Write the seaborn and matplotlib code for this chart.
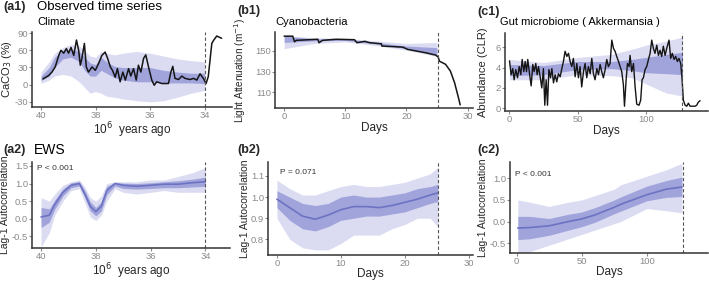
import numpy as np
import pandas as pd
import matplotlib
matplotlib.use("Agg")
import matplotlib.pyplot as plt
import seaborn as sns

# ---- (a1) climate: CaCO3 record (10^6 years ago, %)
a1_age = [39.93, 39.72, 39.6, 39.48, 39.35, 39.27, 39.17, 39.07, 38.99, 38.9, 38.8, 38.7,
          38.62, 38.56, 38.5, 38.41, 38.34, 38.26, 38.13, 38.01, 37.89, 37.77, 37.65, 37.56,
          37.46, 37.38, 37.28, 37.2, 37.1, 37.0, 36.91, 36.79, 36.71, 36.61, 36.51, 36.43,
          36.34, 36.24, 36.16, 36.06, 35.94, 35.85, 35.76, 35.57, 35.33, 35.24, 35.17, 35.09,
          34.96, 34.84, 34.72, 34.54, 34.41, 34.29, 34.17, 34.05, 33.95, 33.87, 33.74, 33.68,
          33.56, 33.38]
a1_caco3 = [10, 16, 22, 31, 51, 60, 55, 63, 55, 65, 51, 78,
            60, 34, 46, 72, 31, 22, 31, 25, 37, 51, 57, 46,
            31, 25, 13, 28, 5, 22, 8, 28, 15, 28, 8, 34,
            22, 46, 52, 31, 8, -1, 5, 2, 2, 22, 32, 11,
            9, 15, 11, 9, 11, 8, 19, 11, 2, 14, 72, 77,
            85, 81]
a1_band_age = [40.0, 39.7, 39.5, 39.2, 38.9, 38.6, 38.4, 38.2, 38.0, 37.8, 37.6, 37.3,
               37.0, 36.5, 36.0, 35.5, 35.0, 34.5, 34.0]
a1_outer_lo = [2, 8, 15, 18, 15, 5, -5, -15, -12, -15, -20, -22, -25, -28, -30, -28, -22, -15, -10]
a1_outer_hi = [22, 40, 55, 65, 70, 68, 60, 50, 48, 58, 55, 52, 55, 58, 55, 50, 45, 42, 40]
a1_inner_lo = [7, 15, 30, 45, 48, 40, 25, 15, 15, 25, 20, 12, 8, 5, 5, 3, 3, 3, 2]
a1_inner_hi = [15, 30, 48, 60, 62, 58, 48, 38, 35, 48, 40, 32, 30, 30, 30, 25, 22, 20, 20]

# ---- (b1) cyanobacteria: light attenuation (days, m^-1)
b1_day = [0, 1.4, 1.7, 2.0, 5.5, 5.7, 6.3, 8.5, 11.5, 11.9, 13.2, 14.0, 15.9, 16.0,
          19.4, 20.2, 23.2, 24.8, 25.2, 25.4, 26.4, 27.2, 27.9, 28.6, 28.8]
b1_att = [164, 164, 158.6, 160, 161, 157.7, 160, 161, 160.6, 157.7, 159, 157.7, 156.7, 154.5,
          153.5, 151.3, 148, 145.8, 144, 140, 137, 130.5, 119, 103, 98]
b1_band_day = [0, 5, 10, 15, 20, 25]
b1_outer_lo = [152, 157, 158.5, 155, 150.5, 144.5]
b1_outer_hi = [164.5, 162.5, 162, 159.5, 157, 158]
b1_inner_lo = [158, 159.5, 160, 156.5, 152, 146]
b1_inner_hi = [164, 161.5, 161.5, 158, 154.5, 153]

# ---- (c1) gut microbiome: Akkermansia abundance (days, CLR)
c1_day = [0, 1.2, 2.4, 3.4, 4.6, 5.9, 7.1, 8.3, 9.3, 10.5, 11.5, 12.5, 13.4, 14.7, 15.9,
          17.1, 18.1, 19.3, 20.3, 21.3, 22.5, 23.7, 24.9, 25.9, 26.9, 27.9, 28.9, 30.1,
          31.1, 32.3, 33.5, 34.7, 35.9, 37.2, 38.4, 39.6, 40.8, 42.1, 43.3, 44.5, 45.7,
          46.9, 48.2, 49.4, 50.6, 51.8, 53.0, 54.3, 55.5, 56.7, 57.9, 59.2, 60.4, 61.6,
          62.8, 64.1, 65.3, 66.5, 67.7, 68.9, 70.2, 71.4, 72.6, 73.8, 75.1, 76.3, 77.5,
          78.7, 80.0, 81.2, 82.4, 83.6, 84.4, 85.6, 86.6, 87.8, 88.5, 89.7, 91.0, 92.2,
          93.4, 95.1, 96.3, 97.3, 98.3, 99.5, 100.7, 102, 103.2, 104.4, 105.6, 106.8,
          108.1, 109.3, 110.5, 111.7, 112.9, 114.2, 115.4, 117.1, 118.3, 119.5, 120.8,
          122, 123.2, 124.4, 125.7, 126.7, 127.6, 128.9, 130.1, 131.3, 132.5, 133.7,
          136.2, 137.4, 138.6, 139.9]
c1_clr = [4.66, 3.3, 3.9, 2.8, 3.8, 3.0, 4.1, 3.3, 4.8, 3.6, 4.6, 3.6, 4.8, 3.4, 2.2,
          4.3, 3.6, 4.4, 3.3, 4.1, 3.1, 2.0, 3.9, 0.3, 2.8, 0.3, 3.8, 3.0,
          3.9, 2.5, 3.3, 2.6, 3.4, 3.1, 3.9, 4.6, 5.6, 5.1, 5.4, 4.6, 4.1,
          4.9, 3.1, 4.4, 3.0, 4.1, 2.1, 3.6, 4.4, 3.0, 4.1, 3.4, 4.9, 3.4,
          2.8, 3.9, 3.3, 4.3, 3.6, 3.0, 3.8, 4.8, 4.1, 4.4, 6.7, 5.9, 5.6,
          5.1, 4.6, 4.1, 3.6, 2.3, 0.2, 2.8, 4.4, 4.1, 5.2, 3.6, 4.4, 2.1,
          0.4, 0.3, 0.8, 2.8, 3.0, 3.8, 4.1, 4.8, 5.4, 6.7, 5.9, 5.4,
          6.2, 5.2, 5.7, 5.1, 6.1, 5.2, 5.9, 6.7, 4.9, 5.4, 4.8,
          5.1, 4.6, 4.9, 4.4, 2.8, 0.8, 0.3, 0.2, 0.5, 0.2, 0.2,
          0.2, 0.3, 0.6, 0.75]
c1_band_day = [0, 25, 50, 75, 90, 100, 115, 127]
c1_outer_lo = [2.8, 2.8, 3.3, 3.2, 3.0, 2.4, 1.5, 1.2]
c1_outer_hi = [4.8, 4.5, 5.0, 5.3, 5.8, 6.2, 6.6, 7.0]
c1_inner_lo = [3.2, 3.3, 3.8, 3.9, 3.7, 3.5, 3.4, 3.3]
c1_inner_hi = [4.3, 4.2, 4.6, 4.6, 4.8, 5.0, 5.3, 5.5]

# ---- (a2) EWS for climate: lag-1 autocorrelation
a2_age = [40.0, 39.7, 39.5, 39.2, 38.9, 38.6, 38.4, 38.2, 38.0, 37.8, 37.6, 37.3,
          37.0, 36.5, 36.0, 35.5, 35.0, 34.5, 34.0]
a2_median = [0.05, 0.1, 0.4, 0.75, 0.95, 1.0, 0.7, 0.35, 0.2, 0.35, 0.8, 1.0,
             0.95, 0.92, 0.95, 0.98, 0.98, 1.02, 1.05]
a2_outer_lo = [-0.8, -0.4, 0.1, 0.5, 0.8, 0.85, 0.45, 0.05, -0.05, 0.1, 0.5, 0.85,
               0.75, 0.7, 0.75, 0.8, 0.75, 0.75, 0.75]
a2_outer_hi = [0.6, 0.5, 0.7, 0.95, 1.05, 1.1, 0.9, 0.6, 0.5, 0.65, 1.0, 1.05,
               1.05, 1.05, 1.1, 1.1, 1.2, 1.3, 1.45]
a2_inner_lo = [-0.25, -0.1, 0.27, 0.65, 0.88, 0.93, 0.6, 0.22, 0.08, 0.22, 0.68, 0.93,
               0.86, 0.84, 0.86, 0.88, 0.88, 0.9, 0.92]
a2_inner_hi = [0.32, 0.28, 0.53, 0.85, 1.02, 1.05, 0.8, 0.48, 0.32, 0.48, 0.92, 1.03,
               1.01, 1.0, 1.02, 1.05, 1.08, 1.12, 1.18]

# ---- (b2) EWS for cyanobacteria
b2_day = [0, 2, 4, 6, 8, 10, 12, 14, 16, 18, 20, 22, 24, 25.2]
b2_median = [0.99, 0.95, 0.91, 0.895, 0.915, 0.94, 0.955, 0.955, 0.95, 0.96, 0.975, 0.99, 1.01, 1.02]
b2_outer_lo = [0.9, 0.8, 0.76, 0.75, 0.75, 0.78, 0.82, 0.82, 0.82, 0.85, 0.87, 0.9, 0.9, 0.86]
b2_outer_hi = [1.08, 1.04, 1.01, 1.01, 1.03, 1.05, 1.06, 1.05, 1.05, 1.06, 1.07, 1.09, 1.11, 1.14]
b2_inner_lo = [0.95, 0.89, 0.85, 0.84, 0.86, 0.89, 0.9, 0.91, 0.91, 0.92, 0.93, 0.95, 0.97, 0.98]
b2_inner_hi = [1.03, 1.0, 0.97, 0.96, 0.97, 1.0, 1.01, 1.0, 1.0, 1.01, 1.02, 1.04, 1.05, 1.06]

# ---- (c2) EWS for gut microbiome
c2_day = [1, 10, 25, 40, 50, 60, 75, 80, 100, 115, 127]
c2_median = [-0.15, -0.14, -0.1, 0.0, 0.06, 0.15, 0.33, 0.4, 0.62, 0.75, 0.8]
c2_outer_lo = [-0.73, -0.7, -0.55, -0.4, -0.3, -0.2, -0.05, 0.0, 0.3, 0.25, 0.2]
c2_outer_hi = [0.5, 0.45, 0.35, 0.45, 0.5, 0.6, 0.75, 0.85, 1.05, 1.2, 1.35]
c2_inner_lo = [-0.42, -0.4, -0.32, -0.2, -0.12, -0.02, 0.18, 0.24, 0.48, 0.56, 0.58]
c2_inner_hi = [0.12, 0.12, 0.07, 0.17, 0.22, 0.32, 0.5, 0.57, 0.82, 0.95, 1.03]

BLUE = "#6d72c2"
LIGHT = "#c3c6ea"
MID = "#8d92d4"
TICK_GREY = "#8a8a8a"
FONT = ["Liberation Sans", "DejaVu Sans"]

sns.set_style("ticks")
plt.rcParams["font.family"] = FONT
plt.rcParams["axes.edgecolor"] = "#333333"
plt.rcParams["axes.linewidth"] = 1.1
plt.rcParams["axes.unicode_minus"] = False

W, H = 709, 281
fig = plt.figure(figsize=(W / 100, H / 100), dpi=100)


def make_ax(l, t, r, b):
    ax = fig.add_axes([l / W, 1 - b / H, (r - l) / W, (b - t) / H])
    sns.despine(ax=ax)
    ax.tick_params(colors=TICK_GREY, labelsize=6.8, length=2, width=0.8, pad=0.8)
    return ax


def bands(ax, x, olo, ohi, ilo, ihi):
    ax.fill_between(x, olo, ohi, color=LIGHT, alpha=0.6, lw=0)
    ax.fill_between(x, ilo, ihi, color=MID, alpha=0.75, lw=0)


def vline(ax, x):
    ax.axvline(x, color="#555555", ls=(0, (3, 2)), lw=0.8)


def labels(ax, xl, yl, xpad=0.5, ypad=1.0, ysize=7.5):
    ax.set_xlabel(xl, fontsize=8.5, labelpad=xpad)
    ax.set_ylabel(yl, fontsize=ysize, labelpad=ypad)


def tag(x, y, text):
    fig.text(x / W, 1 - y / H, text, fontsize=9, fontweight="bold", va="center")


def note(x, y, text, size=8, color="black"):
    fig.text(x / W, 1 - y / H, text, fontsize=size, va="center", color=color)


# (a1)
ax = make_ax(32, 32, 232, 107)
bands(ax, a1_band_age, a1_outer_lo, a1_outer_hi, a1_inner_lo, a1_inner_hi)
sns.lineplot(x=a1_age, y=a1_caco3, ax=ax, color="#151515", lw=1.1, sort=False, estimator=None)
vline(ax, 34)
ax.set_xlim(40.33, 33.0)
ax.set_ylim(-39, 92)
ax.set_xticks([40, 38, 36, 34])
ax.set_yticks([-30, 0, 30, 60, 90])
labels(ax, "10$^6$  years ago", "CaCO$_3$ (%)", ypad=0.5, ysize=8)

# (b1)
ax = make_ax(275, 32, 473, 108)
bands(ax, b1_band_day, b1_outer_lo, b1_outer_hi, b1_inner_lo, b1_inner_hi)
sns.lineplot(x=b1_day, y=b1_att, ax=ax, color="#151515", lw=1.1, sort=False, estimator=None)
vline(ax, 25.1)
ax.set_xlim(-1.5, 30.9)
ax.set_ylim(95, 168)
ax.set_xticks([0, 10, 20, 30])
ax.set_yticks([110, 130, 150])
labels(ax, "Days", "Light Attenuation (m$^{-1}$)", ypad=5, ysize=7.2)

# (c1)
ax = make_ax(505, 33, 708, 111)
bands(ax, c1_band_day, c1_outer_lo, c1_outer_hi, c1_inner_lo, c1_inner_hi)
sns.lineplot(x=c1_day, y=c1_clr, ax=ax, color="#151515", lw=1.0, sort=False, estimator=None)
vline(ax, 126.5)
ax.set_xlim(-3.3, 145.7)
ax.set_ylim(-0.27, 7.4)
ax.set_xticks([0, 50, 100])
ax.set_yticks([0, 2, 4, 6])
labels(ax, "Days", "Abundance (CLR)", ypad=5.5, ysize=8)

# (a2)
ax = make_ax(32, 162, 230, 248)
bands(ax, a2_age, a2_outer_lo, a2_outer_hi, a2_inner_lo, a2_inner_hi)
sns.lineplot(x=a2_age, y=a2_median, ax=ax, color=BLUE, lw=1.2, sort=False, estimator=None)
vline(ax, 34)
ax.set_xlim(40.33, 33.1)
ax.set_ylim(-0.83, 1.61)
ax.set_xticks([40, 38, 36, 34])
ax.set_yticks([-0.5, 0, 0.5, 1.0, 1.5])
ax.set_yticklabels(["-0.5", "0.0", "0.5", "1.0", "1.5"])
labels(ax, "10$^6$  years ago", "Lag-1 Autocorrelation", ypad=1)

# (b2)
ax = make_ax(268, 162, 473, 255)
bands(ax, b2_day, b2_outer_lo, b2_outer_hi, b2_inner_lo, b2_inner_hi)
sns.lineplot(x=b2_day, y=b2_median, ax=ax, color=BLUE, lw=1.2, sort=False, estimator=None)
vline(ax, 25.2)
ax.set_xlim(-1.4, 30.7)
ax.set_ylim(0.726, 1.166)
ax.set_xticks([0, 10, 20, 30])
ax.set_yticks([0.8, 0.9, 1.0, 1.1])
labels(ax, "Days", "Lag-1 Autocorrelation", xpad=0.2, ypad=0.5)

# (c2)
ax = make_ax(510, 162, 708, 253)
bands(ax, c2_day, c2_outer_lo, c2_outer_hi, c2_inner_lo, c2_inner_hi)
sns.lineplot(x=c2_day, y=c2_median, ax=ax, color=BLUE, lw=1.2, sort=False, estimator=None)
vline(ax, 128)
ax.set_xlim(-5, 147)
ax.set_ylim(-0.73, 1.38)
ax.set_xticks([0, 50, 100])
ax.set_yticks([-0.5, 0, 0.5, 1.0])
ax.set_yticklabels(["-0.5", "0.0", "0.5", "1.0"])
labels(ax, "Days", "Lag-1 Autocorrelation", xpad=0.2, ypad=1.5)

# p-value notes
note(37, 169, "P < 0.001", size=6, color="#333333")
note(280, 172, "P = 0.071", size=6, color="#333333")
note(515, 174, "P < 0.001", size=6, color="#333333")

# panel tags and titles
tag(3, 7, "(a1)")
note(37, 7, "Observed time series", size=9.5)
note(37, 22, "Climate")
tag(237, 11, "(b1)")
note(275, 22, "Cyanobacteria")
tag(477, 12, "(c1)")
note(500, 22, "Gut microbiome ( Akkermansia )")
tag(3, 150, "(a2)")
note(34, 150, "EWS", size=10)
tag(237, 150, "(b2)")
tag(477, 150, "(c2)")

fig.savefig("out.png", dpi=100)
